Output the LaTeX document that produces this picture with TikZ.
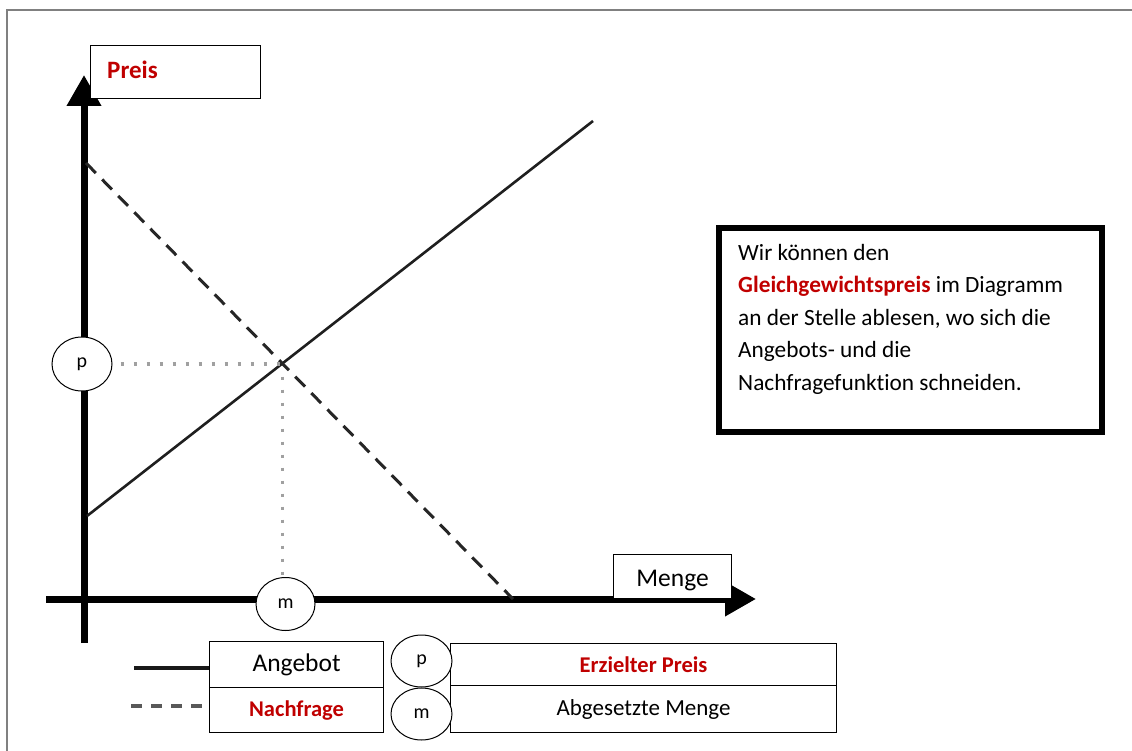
\documentclass[tikz,border=0pt]{standalone}
\usepackage{fontspec}
\setmainfont{Carlito}[Ligatures=NoCommon]
\usetikzlibrary{arrows.meta,shapes.geometric}
\definecolor{accent}{HTML}{C00000}
\definecolor{framegray}{HTML}{808080}
\definecolor{dotgray}{HTML}{A0A0A0}
\begin{document}
\begin{tikzpicture}[x=1pt,y=-1pt,
  frame/.style={draw=framegray,line width=2pt},
  axisline/.style={line width=7pt,-{Triangle[length=31pt,width=33pt]}},
  labelbox/.style={draw=black,line width=1.1pt,fill=white,inner sep=0pt,anchor=north west},
  tag/.style={ellipse,draw=black,line width=1pt,fill=white,inner sep=0pt,font=\fontsize{20}{22}\selectfont},
  supply/.style={line width=2.6pt,draw=black!88},
  demand/.style={line width=3pt,draw=black!85,dash pattern=on 14pt off 9pt},
  guide/.style={line width=3.2pt,draw=dotgray,dash pattern=on 3.2pt off 9.8pt},
  redbold/.style={text=accent,font=\bfseries\fontsize{22.5}{26}\selectfont}
]
\useasboundingbox (0,0) rectangle (1132,751);

% page frame
\draw[frame] (7,751) -- (7,10) -- (1132,10);

% axes
\draw[axisline] (84,643) -- (84,75);
\draw[axisline] (46,599) -- (756,599);

% axis captions
\node[labelbox,minimum width=170pt,minimum height=53pt] (preis) at (90,45) {};
\node[anchor=west,inner sep=0pt,text=accent,font=\bfseries\fontsize{25}{28}\selectfont] (preistxt) at (107,70) {Preis};
\node[labelbox,minimum width=118pt,minimum height=44pt] (menge) at (613,554) {};
\node[inner sep=0pt,font=\fontsize{25.5}{28}\selectfont] (mengetxt) at ([yshift=-4pt]menge.center) {Menge};

% supply and demand curves
\coordinate (s0) at (87,516);
\coordinate (s1) at (593,121);
\coordinate (d0) at (86,163);
\coordinate (d1) at (513,599);
\draw[supply] (s0) -- (s1);
\draw[demand] (d0) -- (d1);
\coordinate (eq) at (intersection of s0--s1 and d0--d1);

% equilibrium markers
\node[tag,minimum width=60pt,minimum height=54pt] (ptag) at (82,364) {p};
\node[tag,minimum width=59pt,minimum height=53pt] (mtag) at (285.5,604) {m};
\draw[guide] (ptag.east) ++(8,0) -- (ptag.east -| eq);
\draw[guide] (eq) ++(0,13) -- (eq |- mtag.north);

% legend
\node[labelbox,minimum width=174pt,minimum height=46pt,font=\fontsize{25.5}{28}\selectfont] (angebot) at (209,641) {Angebot};
\node[labelbox,minimum width=174pt,minimum height=45pt,redbold] (nachfrage) at (209,687) {Nachfrage};
\coordinate (solidstart) at (134,668);
\draw[line width=3.5pt,black!90] (solidstart) -- (solidstart -| angebot.west);
\coordinate (dashstart) at (131,706);
\coordinate (dashend) at (202,706);
\draw[line width=4pt,draw=black!65,dash pattern=on 11pt off 9pt] (dashstart) -- (dashend);

\node[labelbox,minimum width=386pt,minimum height=42pt,redbold] (erzielt) at (450,643) {Erzielter Preis};
\node[labelbox,minimum width=386pt,minimum height=47pt,font=\fontsize{23}{26}\selectfont] (abgesetzt) at (450,685) {Abgesetzte Menge};
\node[tag,minimum width=61pt,minimum height=52pt] (plegend) at (421.5,661) {p};
\node[tag,minimum width=61pt,minimum height=52pt] (mlegend) at (421.5,714) {m};

% explanation box
\draw[line width=6pt] (719,228) rectangle (1102,432);
\node[anchor=north west,inner sep=0pt,align=left,font=\fontsize{23.3}{32.5}\selectfont] (note) at (738,244)
{Wir können den\\
\textcolor{accent}{\bfseries Gleichgewichtspreis} im Diagramm\\
an der Stelle ablesen, wo sich die\\
Angebots- und die\\
Nachfragefunktion schneiden.};
\end{tikzpicture}
\end{document}
